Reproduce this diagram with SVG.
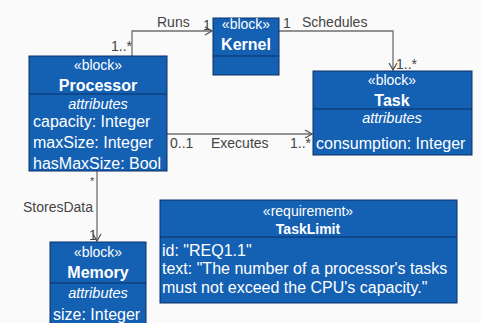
<svg xmlns="http://www.w3.org/2000/svg" width="481" height="323" viewBox="0 0 481 323">
<defs>
<style>
.box{fill:#1461b3;stroke:#0b2f66;stroke-width:1}
.div{stroke:#0b2f66;stroke-width:1.2}
.st{font-family:"Liberation Sans",Arial,sans-serif;font-size:14px;fill:#fff;text-anchor:middle}
.nm{font-family:"Liberation Sans",Arial,sans-serif;font-size:16px;font-weight:bold;fill:#fff;text-anchor:middle}
.at{font-family:"Liberation Sans",Arial,sans-serif;font-size:14.5px;font-style:italic;fill:#fff;text-anchor:middle}
.tx{font-family:"Liberation Sans",Arial,sans-serif;font-size:16px;fill:#fff}
.lb{font-family:"Liberation Sans",Arial,sans-serif;font-size:14px;fill:#444}
.ln{fill:none;stroke:#6f6f6f;stroke-width:1.3}
</style>
<marker id="arr" markerWidth="10" markerHeight="10" refX="8" refY="5" orient="auto" markerUnits="userSpaceOnUse">
<path d="M1,1 L8,5 L1,9" fill="none" stroke="#555" stroke-width="1.3"/>
</marker>
</defs>
<rect width="481" height="323" fill="#fafafa"/>
<g id="connectors">
<path class="ln" d="M132,56 V31 H212" marker-end="url(#arr)"/>
<path class="ln" d="M279,31 H393 V70" marker-end="url(#arr)"/>
<path class="ln" d="M167,134 H312" marker-end="url(#arr)"/>
<path class="ln" d="M97,171 V241" marker-end="url(#arr)"/>
<text class="lb" x="157" y="27">Runs</text>
<text class="lb" x="203" y="30">1</text>
<text class="lb" x="111" y="51">1..*</text>
<text class="lb" x="283" y="28">1</text>
<text class="lb" x="302" y="27">Schedules</text>
<text class="lb" x="396" y="69">1..*</text>
<text class="lb" x="170" y="148">0..1</text>
<text class="lb" x="211" y="148">Executes</text>
<text class="lb" x="290" y="148">1..*</text>
<text class="lb" x="90" y="185" style="font-size:11px">*</text>
<text class="lb" x="23" y="212">StoresData</text>
<text class="lb" x="89" y="240">1</text>
</g>
<g id="kernel">
<rect class="box" x="213" y="18" width="66" height="57"/>
<line class="div" x1="213" y1="56" x2="279" y2="56"/>
<text class="st" x="246" y="29">«block»</text>
<text class="nm" x="246" y="50">Kernel</text>
</g>
<g id="processor">
<rect class="box" x="29" y="56" width="138" height="115"/>
<line class="div" x1="29" y1="94" x2="167" y2="94"/>
<text class="st" x="98" y="70">«block»</text>
<text class="nm" x="98" y="91">Processor</text>
<text class="at" x="98" y="109">attributes</text>
<text class="tx" x="33" y="127">capacity: Integer</text>
<text class="tx" x="33" y="148">maxSize: Integer</text>
<text class="tx" x="33" y="169">hasMaxSize: Bool</text>
</g>
<g id="task">
<rect class="box" x="313" y="71" width="159" height="84"/>
<line class="div" x1="313" y1="109" x2="472" y2="109"/>
<text class="st" x="392" y="85">«block»</text>
<text class="nm" x="392" y="106">Task</text>
<text class="at" x="392" y="123">attributes</text>
<text class="tx" x="316" y="149">consumption: Integer</text>
</g>
<g id="memory">
<rect class="box" x="50" y="242" width="96" height="90"/>
<line class="div" x1="50" y1="283" x2="146" y2="283"/>
<text class="st" x="98" y="257">«block»</text>
<text class="nm" x="98" y="278">Memory</text>
<text class="at" x="98" y="298">attributes</text>
<text class="tx" x="53" y="320">size: Integer</text>
</g>
<g id="tasklimit">
<rect class="box" x="160" y="200" width="297" height="103"/>
<line class="div" x1="160" y1="237" x2="457" y2="237"/>
<text class="st" x="308" y="216">«requirement»</text>
<text class="nm" x="308" y="234" style="font-size:14px">TaskLimit</text>
<text class="tx" x="162" y="256">id: "REQ1.1"</text>
<text class="tx" x="162" y="274">text: "The number of a processor's tasks</text>
<text class="tx" x="162" y="293">must not exceed the CPU's capacity."</text>
</g>
</svg>
